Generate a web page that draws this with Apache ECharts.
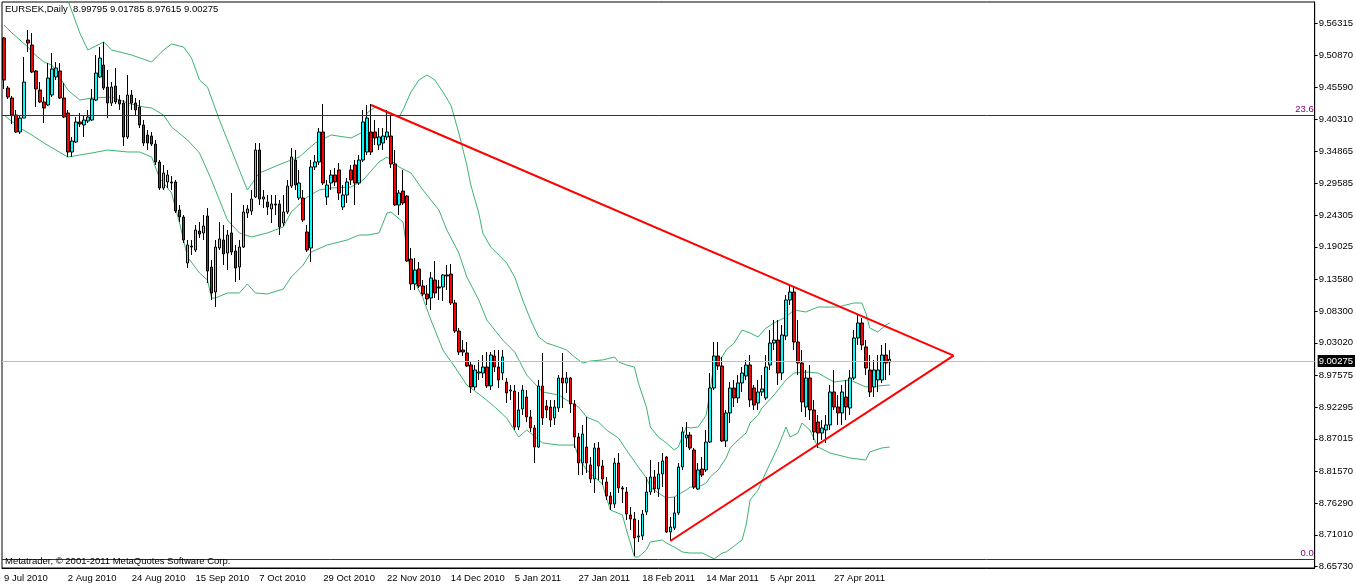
<!DOCTYPE html>
<html><head><meta charset="utf-8">
<script src="https://cdn.jsdelivr.net/npm/echarts@6.0.0/dist/echarts.min.js"></script>
<style>html,body{margin:0;padding:0;background:#fff}#c{width:1356px;height:586px}</style>
</head><body><div id="c"></div>
<script>
const symbolName = 'EURSEK,Daily';
const copyright = 'Metatrader, \u00a9 2001-2011 MetaQuotes Software Corp.';
const tickLabels = ['9 Jul 2010','2 Aug 2010','24 Aug 2010','15 Sep 2010','7 Oct 2010','29 Oct 2010','22 Nov 2010','14 Dec 2010','5 Jan 2011','27 Jan 2011','18 Feb 2011','14 Mar 2011','5 Apr 2011','27 Apr 2011'];
const barsPerTick = 16;
const slotCount = 329;
const priceTicks = [9.56315,9.50870,9.45590,9.40310,9.34865,9.29585,9.24305,9.19025,9.13580,9.08300,9.03020,8.97575,8.92295,8.87015,8.81570,8.76290,8.71010,8.65730];
const yMin = 8.6548, yMax = 9.5982;

const opens = [9.5382,9.4548,9.4382,9.4098,9.3815,9.4048,9.5348,9.5265,9.4832,9.4515,9.4315,9.4265,9.4432,9.4732,9.4832,9.4382,9.4132,9.3482,9.3648,9.3982,9.3932,9.3998,9.4015,9.4348,9.4732,9.4932,9.4565,9.4298,9.4582,9.4348,9.4298,9.3732,9.4432,9.4298,9.4232,9.3932,9.3765,9.3748,9.3615,9.3315,9.2882,9.2982,9.2982,9.2982,9.2515,9.2398,9.1632,9.1915,9.1848,9.2165,9.2132,9.2415,9.1565,9.1148,9.1882,9.2015,9.1798,9.2132,9.1832,9.1565,9.1898,9.2465,9.2498,9.2732,9.3515,9.2698,9.2648,9.2532,9.2615,9.2615,9.2298,9.2482,9.2915,9.3348,9.2715,9.2715,9.2148,9.1882,9.3232,9.3315,9.3815,9.2732,9.2965,9.3098,9.3182,9.2565,9.2765,9.3182,9.3265,9.2965,9.3348,9.3482,9.3815,9.3815,9.3598,9.3632,9.3732,9.3748,9.3282,9.2598,9.2832,9.2748,9.1698,9.1282,9.1532,9.1248,9.1115,9.1048,9.1348,9.1232,9.1232,9.1432,9.1448,9.0965,9.0498,9.0182,9.0132,8.9932,8.9565,8.9798,8.9798,8.9898,8.9582,9.0082,8.9898,8.9798,8.9648,8.9498,8.9498,8.8898,8.9198,8.9398,8.9065,8.8882,8.8565,8.9582,8.9248,8.9232,8.9048,8.9215,8.9715,8.9632,8.9715,8.9282,8.8732,8.8298,8.8565,8.8265,8.8032,8.8548,8.8248,8.7982,8.7748,8.7615,8.8298,8.7882,8.7815,8.7432,8.7365,8.7065,8.7082,8.7482,8.7815,8.8065,8.7865,8.8115,8.8398,8.7148,8.7215,8.7465,8.8232,8.8715,8.8765,8.8515,8.7865,8.8198,8.8182,8.8648,8.9548,9.0082,8.9915,8.8665,8.9132,8.9548,8.9382,8.9632,8.9748,8.9932,8.9548,8.9298,8.9482,8.9382,8.9932,9.0298,9.0348,8.9798,9.0415,9.1015,9.1148,9.0315,8.9965,8.9232,8.9715,8.9182,8.8982,8.8798,8.8848,8.8932,8.9482,8.9232,8.9132,8.9398,8.9215,8.9715,9.0382,9.0632,9.0232,8.9848,8.9565,8.9682,8.9682,9.0098,8.99795];
const closes = [9.4682,9.4398,9.4098,9.3815,9.4048,9.4648,9.5298,9.4815,9.4532,9.4315,9.4215,9.4715,9.4865,9.4882,9.4382,9.4065,9.3482,9.3665,9.3982,9.3948,9.4015,9.4065,9.4365,9.4798,9.5048,9.4548,9.4298,9.4565,9.4315,9.4282,9.3732,9.4432,9.4298,9.4182,9.3932,9.3632,9.3632,9.3615,9.3315,9.2882,9.3132,9.3098,9.2965,9.2498,9.2398,9.2015,9.1932,9.1898,9.2182,9.2115,9.2248,9.1498,9.1132,9.1898,9.2032,9.1782,9.2098,9.1815,9.1548,9.1898,9.2482,9.2532,9.2698,9.3515,9.2698,9.2732,9.2565,9.2615,9.2598,9.2232,9.2482,9.2915,9.3398,9.2932,9.2965,9.2348,9.1848,9.3232,9.3315,9.3815,9.2965,9.2932,9.3098,9.2982,9.2798,9.2765,9.2982,9.3015,9.2965,9.3348,9.3982,9.4048,9.3482,9.3715,9.3732,9.3748,9.3815,9.3282,9.2598,9.2798,9.2632,9.1665,9.1282,9.1515,9.1248,9.1115,9.1032,9.1382,9.1132,9.1215,9.1432,9.1415,9.0965,9.0498,9.0148,9.0148,8.9915,8.9565,8.9848,8.9815,8.9898,8.9582,9.0098,8.9898,8.9682,9.0065,8.9465,8.9515,8.8898,8.9182,8.9515,8.9065,8.8882,8.8565,8.9582,8.9048,8.9182,8.9015,8.9232,8.9715,8.9632,8.9715,8.9282,8.8732,8.8298,8.8782,8.8298,8.8032,8.8548,8.8248,8.8032,8.7748,8.7615,8.8298,8.7882,8.7865,8.7448,8.7365,8.7048,8.7082,8.7448,8.7815,8.8065,8.7865,8.8115,8.8332,8.7148,8.7232,8.7465,8.8232,8.8815,8.8765,8.8548,8.7898,8.8182,8.8098,8.8648,8.9548,9.0082,8.9915,8.8665,8.9132,8.9548,8.9382,8.9632,8.9798,8.9932,8.9348,8.9265,8.9482,8.9532,8.9898,9.0298,9.0348,8.9798,9.0432,9.1015,9.1148,9.0315,8.9965,8.9315,8.9715,8.9182,8.8815,8.8798,8.8882,8.8932,8.9482,8.9232,8.9132,8.9482,8.9232,8.9715,9.0382,9.0632,9.0265,8.9882,8.9482,8.9848,8.9848,9.0098,8.9965,9.00275];
const lows = [9.4532,9.4365,9.3948,9.3798,9.3782,9.4048,9.5148,9.4798,9.4232,9.4298,9.3965,9.4248,9.4398,9.4682,9.4365,9.4048,9.3398,9.3398,9.3632,9.3898,9.3732,9.3965,9.3998,9.4332,9.4715,9.4515,9.4048,9.4248,9.4282,9.4182,9.3582,9.3698,9.4182,9.4098,9.3882,9.3582,9.3515,9.3582,9.3265,9.2848,9.2848,9.2882,9.2848,9.2465,9.2315,9.1965,9.1548,9.1765,9.1815,9.2048,9.2015,9.1298,9.1015,9.0898,9.1848,9.1598,9.1515,9.1765,9.1315,9.1348,9.1882,9.2382,9.2432,9.2715,9.2598,9.2548,9.2432,9.2298,9.2432,9.2098,9.2248,9.2448,9.2882,9.2848,9.2682,9.2315,9.1815,9.1648,9.3182,9.3265,9.2932,9.2598,9.2848,9.2915,9.2682,9.2515,9.2632,9.2932,9.2598,9.2932,9.3315,9.3432,9.3432,9.3598,9.3515,9.3515,9.3682,9.3215,9.2582,9.2432,9.2598,9.1648,9.1182,9.1182,9.1215,9.1082,9.0932,9.0848,9.1048,9.1015,9.0998,9.1182,9.0932,9.0465,9.0098,9.0082,8.9898,8.9465,8.9515,8.9682,8.9715,8.9548,8.9515,8.9815,8.9548,8.9682,8.9298,8.9348,8.8848,8.8848,8.9098,8.8982,8.8815,8.8298,8.8548,8.8932,8.9048,8.8898,8.8932,8.9148,8.9215,8.9465,8.9132,8.8548,8.8098,8.8098,8.8132,8.7965,8.7798,8.8015,8.7932,8.7682,8.7515,8.7548,8.7798,8.7632,8.7348,8.7182,8.6748,8.6982,8.7015,8.7432,8.7765,8.7798,8.7732,8.7898,8.7132,8.7015,8.7182,8.7432,8.8182,8.8565,8.8515,8.7865,8.7848,8.8065,8.8148,8.8632,8.9515,8.9848,8.8648,8.8565,8.8965,8.9232,8.9298,8.9482,8.9682,8.9232,8.9182,8.9182,8.9415,8.9348,8.9848,9.0182,8.9598,8.9682,9.0348,9.0932,9.0182,8.9765,8.9148,8.9065,8.9015,8.8682,8.8548,8.8682,8.8632,8.8848,8.9182,8.8932,8.8932,8.9015,8.9098,8.9682,9.0265,9.0182,8.9765,8.9398,8.9398,8.9482,8.9632,8.9682,8.97615];
const highs = [9.5398,9.4582,9.4415,9.4182,9.4098,9.5065,9.5515,9.5465,9.4848,9.4648,9.4398,9.4965,9.5132,9.4982,9.4965,9.4632,9.4182,9.3732,9.4065,9.4132,9.4098,9.4182,9.4532,9.5098,9.5232,9.5315,9.4848,9.4648,9.4882,9.4432,9.4348,9.4765,9.4515,9.4382,9.4348,9.4015,9.3848,9.3815,9.3682,9.3348,9.3265,9.3182,9.3082,9.3015,9.2598,9.2432,9.2015,9.2015,9.2265,9.2315,9.2432,9.2548,9.1682,9.2015,9.2315,9.2265,9.2182,9.2798,9.1932,9.2015,9.2598,9.2598,9.2848,9.3632,9.3632,9.2848,9.2765,9.2765,9.2765,9.2682,9.2765,9.3015,9.3548,9.3515,9.3182,9.2848,9.2265,9.3348,9.3432,9.3882,9.4282,9.3015,9.3182,9.3215,9.3298,9.2932,9.3048,9.3265,9.3348,9.3432,9.4182,9.4265,9.4282,9.4015,9.3882,9.3882,9.4182,9.4098,9.3515,9.2848,9.3182,9.2765,9.1882,9.1715,9.1648,9.1348,9.1265,9.1482,9.1665,9.1348,9.1448,9.1598,9.1615,9.1015,9.0548,9.0348,9.0315,8.9982,8.9932,9.0015,9.0098,9.0148,9.0148,9.0182,9.0182,9.0182,8.9715,8.9598,8.9598,8.9482,8.9598,8.9515,8.9182,8.8932,8.9682,9.0132,8.9348,8.9348,8.9348,8.9765,9.0132,8.9815,8.9732,8.9348,8.8798,8.8932,8.9065,8.8398,8.8632,8.8648,8.8348,8.8065,8.7815,8.8382,8.8465,8.7915,8.7898,8.7565,8.7482,8.7348,8.7515,8.8065,8.8348,8.8182,8.8315,8.8465,8.8415,8.7398,8.7732,8.8298,8.8898,8.8982,8.8815,8.8548,8.8298,8.8398,8.8848,8.9798,9.0315,9.0315,9.0065,8.9182,8.9648,8.9682,8.9765,8.9898,9.0015,9.0098,8.9598,8.9682,8.9765,9.0098,9.0515,9.0682,9.0682,9.0598,9.1098,9.1248,9.1232,9.0682,9.0182,8.9848,8.9932,8.9348,8.9098,8.9015,8.9098,8.9598,8.9848,8.9432,8.9598,8.9682,8.9848,9.0515,9.0782,9.0715,9.0348,9.0098,9.0015,9.0098,9.0265,9.0298,9.01785];

const bandUpper = [[0,9.7015],[8,9.6682],[14,9.6182],[16,9.6015],[19,9.5465],[21,9.5182],[25,9.5315],[27,9.5182],[32,9.5098],[37,9.4982],[40,9.5182],[42,9.5282],[45,9.5232],[47,9.5048],[49,9.4682],[51,9.4565],[54,9.4015],[57,9.3515],[61,9.2848],[64,9.3132],[70,9.3298],[74,9.3398],[78,9.3632],[82,9.3765],[87,9.3715],[90,9.3815],[91,9.4132],[93,9.4232],[96,9.4132],[99,9.4065],[100,9.4182],[102,9.4482],[104,9.4682],[106,9.4765],[108,9.4682],[110,9.4482],[112,9.4265],[114,9.3798],[116,9.3265],[117,9.2932],[119,9.2465],[120,9.2132],[122,9.1898],[126,9.1632],[128,9.1398],[130,9.1015],[132,9.0682],[134,9.0398],[136,9.0298],[139,9.0232],[141,9.0182],[143,9.0065],[145,8.9965],[147,8.9998],[150,9.0015],[153,9.0065],[154,8.9982],[156,8.9932],[158,8.9898],[159,8.9632],[161,8.9232],[162,8.8898],[164,8.8732],[166,8.8632],[168,8.8515],[169,8.8565],[170,8.8732],[171,8.8898],[172,8.8882],[174,8.8898],[176,8.9098],[177,8.9515],[178,8.9982],[180,9.0065],[181,9.0182],[183,9.0298],[185,9.0515],[187,9.0465],[189,9.0398],[191,9.0548],[193,9.0632],[196,9.0732],[198,9.0848],[201,9.0815],[204,9.0898],[209,9.0898],[213,9.0965],[215,9.0965],[216,9.0798],[217,9.0548],[219,9.0482],[221,9.0598],[222,9.0632]];
const bandMiddle = [[0,9.5598],[2,9.5465],[6,9.5232],[7,9.5148],[10,9.4982],[12,9.4932],[16,9.4515],[19,9.4348],[22,9.4382],[27,9.4398],[31,9.4298],[35,9.4232],[37,9.4215],[40,9.4098],[42,9.3898],[46,9.3682],[49,9.3465],[52,9.3015],[53,9.2848],[56,9.2348],[59,9.2132],[62,9.2065],[66,9.2132],[70,9.2232],[72,9.2482],[76,9.2732],[79,9.2848],[82,9.2882],[87,9.2898],[90,9.3015],[94,9.3315],[96,9.3398],[99,9.3232],[102,9.3132],[105,9.2848],[109,9.2515],[111,9.2182],[114,9.1798],[116,9.1398],[119,9.1015],[121,9.0682],[125,9.0348],[128,9.0148],[131,8.9765],[135,8.9482],[139,8.9432],[141,8.9348],[144,8.9232],[146,8.9065],[149,8.8982],[151,8.8848],[154,8.8715],[156,8.8515],[159,8.8232],[161,8.8048],[162,8.7898],[164,8.7798],[166,8.7715],[168,8.7732],[171,8.7848],[172,8.7898],[174,8.7898],[176,8.7965],[177,8.8065],[179,8.8182],[181,8.8382],[182,8.8548],[184,8.8682],[186,8.8798],[187,8.8965],[189,8.9098],[190,8.9215],[193,8.9432],[196,8.9682],[198,8.9798],[201,8.9815],[204,8.9798],[208,8.9648],[212,8.9682],[216,8.9565],[222,8.9598]];
const bandLower = [[0,9.4098],[4,9.3882],[7,9.3765],[10,9.3632],[13,9.3515],[16,9.3398],[19,9.3432],[22,9.3465],[26,9.3515],[31,9.3482],[34,9.3482],[37,9.3398],[39,9.3048],[42,9.2798],[44,9.2298],[46,9.1732],[49,9.1465],[51,9.1348],[52,9.1048],[53,9.1048],[56,9.1132],[59,9.1132],[61,9.1282],[63,9.1132],[66,9.1115],[70,9.1198],[72,9.1398],[75,9.1598],[77,9.1815],[81,9.1932],[86,9.2015],[89,9.2098],[91,9.2098],[94,9.2132],[96,9.2465],[97,9.2482],[100,9.2315],[101,9.1848],[102,9.1432],[105,9.1048],[107,9.0682],[110,9.0182],[113,8.9898],[116,8.9598],[120,8.9398],[123,8.9232],[126,8.9048],[129,8.8732],[131,8.8848],[135,8.8632],[139,8.8598],[143,8.8598],[144,8.8398],[146,8.8182],[148,8.8065],[150,8.7948],[151,8.7715],[152,8.7515],[155,8.7432],[156,8.7182],[157,8.6965],[158,8.6732],[159,8.6732],[161,8.6848],[162,8.6982],[165,8.7015],[166,8.6965],[168,8.6898],[170,8.6815],[172,8.6798],[175,8.6798],[177,8.6732],[178,8.6698],[180,8.6798],[181,8.6815],[184,8.6965],[185,8.7015],[186,8.7265],[187,8.7682],[189,8.7848],[191,8.8148],[194,8.8565],[196,8.8898],[197,8.8732],[199,8.8798],[200,8.8965],[202,8.8848],[204,8.8565],[207,8.8465],[212,8.8382],[216,8.8348],[217,8.8482],[220,8.8548],[222,8.8565]];

const trendUpper = [[92,9.4265],[238,9.0087]];
const trendLower = [[167,8.6998],[238,9.0087]];
const fiboLevels = [['23.6',9.4098],['0.0',8.6748]];

const FONT = "'Liberation Sans', Arial, sans-serif";
const n = opens.length;
const last = n - 1;
const lastPrice = closes[last];
const header = symbolName + '  ' + [opens[last], highs[last], lows[last], closes[last]].map(v => v.toFixed(5)).join(' ');
const categories = Array.from({length: slotCount}, (_, i) => String(i));
const isTick = (i) => i % barsPerTick === 0 && i / barsPerTick < tickLabels.length;
const candles = opens.map((o, i) => [o, closes[i], lows[i], highs[i]]);

const markData = fiboLevels.map(([lab, v]) => ({
  yAxis: v,
  lineStyle: {color: '#800080', width: 1, type: 'solid'},
  label: {show: true, formatter: lab, position: 'insideEndTop', color: '#800080', fontSize: 9.5, fontFamily: FONT, distance: 1}
}));
markData.push({
  yAxis: lastPrice,
  lineStyle: {color: '#c0c0c0', width: 1, type: 'solid'},
  label: {show: true, formatter: lastPrice.toFixed(5), position: 'end', distance: 3, color: '#fff', backgroundColor: '#000', padding: [1, 2, 1, 1], fontSize: 9.5, fontFamily: FONT}
});

const bandStyle = {color: '#3cb371', width: 1};
const chart = echarts.init(document.getElementById('c'), null, {renderer: 'canvas'});
chart.setOption({
  animation: false,
  backgroundColor: '#fff',
  title: [
    {text: header, left: 5, top: 4, padding: 0, textStyle: {fontSize: 9.5, fontWeight: 'normal', color: '#000', fontFamily: FONT}},
    {text: copyright, left: 5, top: 556, padding: 0, textStyle: {fontSize: 9.5, fontWeight: 'normal', color: '#000', fontFamily: FONT}}
  ],
  grid: {left: 2, top: 2, width: 1316, height: 566, show: true, borderColor: '#000', borderWidth: 1, backgroundColor: '#fff'},
  xAxis: {
    type: 'category', data: categories, boundaryGap: true,
    axisLine: {lineStyle: {color: '#000'}},
    axisTick: {alignWithLabel: true, interval: (i) => isTick(i), length: 4, lineStyle: {color: '#000'}},
    axisLabel: {interval: (i) => isTick(i), formatter: (v, i) => tickLabels[Math.round(i / barsPerTick)] || '', align: 'left', margin: 5, color: '#000', fontSize: 9.5, fontFamily: FONT},
    splitLine: {show: false}
  },
  yAxis: {
    type: 'value', position: 'right', min: yMin, max: yMax, scale: true,
    axisLine: {show: true, lineStyle: {color: '#000'}},
    axisTick: {show: true, customValues: priceTicks, length: 3, lineStyle: {color: '#000'}},
    axisLabel: {customValues: priceTicks, formatter: (v) => v.toFixed(5), margin: 4, color: '#000', fontSize: 9.5, fontFamily: FONT},
    splitLine: {show: false}
  },
  series: [
    {type: 'line', name: 'BB upper', data: bandUpper, showSymbol: false, lineStyle: bandStyle, z: 2, silent: true},
    {type: 'line', name: 'BB middle', data: bandMiddle, showSymbol: false, lineStyle: bandStyle, z: 2, silent: true},
    {type: 'line', name: 'BB lower', data: bandLower, showSymbol: false, lineStyle: bandStyle, z: 2, silent: true},
    {
      type: 'candlestick', name: 'EURSEK', data: candles, barWidth: 3, z: 3,
      itemStyle: {color: '#00ffff', color0: '#ff0000', borderColor: '#000', borderColor0: '#000', borderWidth: 1},
      markLine: {silent: true, symbol: ['none', 'none'], animation: false, data: markData}
    },
    {type: 'line', name: 'Triangle upper', data: trendUpper, showSymbol: false, lineStyle: {color: '#ff0000', width: 2}, z: 5, silent: true},
    {type: 'line', name: 'Triangle lower', data: trendLower, showSymbol: false, lineStyle: {color: '#ff0000', width: 2}, z: 5, silent: true}
  ]
});
</script></body></html>
